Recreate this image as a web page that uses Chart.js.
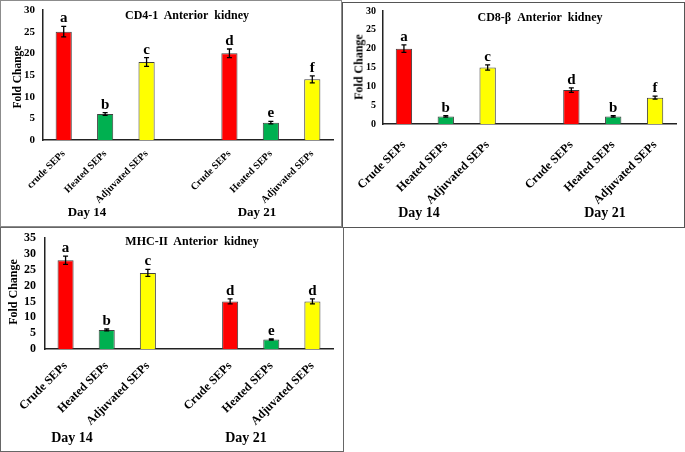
<!DOCTYPE html>
<html>
<head>
<meta charset="utf-8">
<script src="https://cdn.jsdelivr.net/npm/chart.js@4.4.0/dist/chart.umd.min.js"></script>
<style>
  body { margin:0; background:#fff; font-family:"Liberation Serif", serif; }
  #page { position:relative; width:685px; height:452px; overflow:hidden; }
  .box { position:absolute; border:1px solid #8c8c8c; box-sizing:border-box; }
  canvas { position:absolute; }
  .txt { position:absolute; font-weight:bold; white-space:nowrap; transform:translate(-50%,-50%); color:#000; }
  .ylab { position:absolute; font-weight:bold; white-space:nowrap; transform:translate(-50%,-50%) rotate(-90deg); color:#000; }
</style>
</head>
<body>
<div id="page">
  <div class="box" style="left:0;top:0;width:342px;height:227px"></div>
  <div class="box" style="left:342px;top:2px;width:343px;height:226px;border-color:#555"></div>
  <div class="box" style="left:0;top:227px;width:344px;height:225px;border-color:#666"></div>

  <canvas id="cd4" width="340" height="224" style="left:1px;top:1px"></canvas>
  <canvas id="cd8" width="339" height="223" style="left:344px;top:3px"></canvas>
  <canvas id="mhc" width="341" height="221" style="left:1px;top:229px"></canvas>

  <div class="txt" style="left:187px;top:15px;font-size:12px">CD4-1&nbsp; Anterior&nbsp; kidney</div>
  <div class="txt" style="left:540px;top:17px;font-size:12px">CD8-β&nbsp; Anterior&nbsp; kidney</div>
  <div class="txt" style="left:192px;top:241px;font-size:12px">MHC-II&nbsp; Anterior&nbsp; kidney</div>

  <div class="ylab" style="left:17px;top:77px;font-size:11.5px">Fold Change</div>
  <div class="ylab" style="left:359px;top:67px;font-size:12px">Fold Change</div>
  <div class="ylab" style="left:13px;top:292px;font-size:12px">Fold Change</div>

  <div class="txt" style="left:87px;top:212px;font-size:13px">Day 14</div>
  <div class="txt" style="left:257px;top:212px;font-size:13px">Day 21</div>
  <div class="txt" style="left:419px;top:213px;font-size:14px">Day 14</div>
  <div class="txt" style="left:605px;top:213px;font-size:14px">Day 21</div>
  <div class="txt" style="left:72px;top:438px;font-size:14px">Day 14</div>
  <div class="txt" style="left:246px;top:438px;font-size:14px">Day 21</div>
</div>
<script>
/* ---------- Data ---------- */
const cd4Labels = ["crude SEPs", "Heated SEPs", "Adjuvated SEPs", "", "Crude SEPs", "Heated SEPs", "Adjuvated SEPs"];
const otherLabels = ["Crude SEPs", "Heated SEPs", "Adjuvated SEPs", "", "Crude SEPs", "Heated SEPs", "Adjuvated SEPs"];

const cd4Values = [25, 6, 18, null, 20, 4, 14];
const cd4Errors = [1.2, 0.3, 1.0, null, 1.0, 0.3, 0.8];
const cd4Letters = ["a", "b", "c", "", "d", "e", "f"];

const cd8Values = [20, 2, 15, null, 9, 2, 7];
const cd8Errors = [1.0, 0.2, 0.7, null, 0.6, 0.2, 0.4];
const cd8Letters = ["a", "b", "c", "", "d", "b", "f"];

const mhcValues = [28, 6, 24, null, 15, 3, 15];
const mhcErrors = [1.3, 0.3, 1.1, null, 0.8, 0.2, 0.8];
const mhcLetters = ["a", "b", "c", "", "d", "e", "d"];

const barColors = ["#FF0000", "#00B050", "#FFFF00", "#fff", "#FF0000", "#00B050", "#FFFF00"];

/* ---------- Helpers ---------- */
const FONT = "Liberation Serif";

// error bars + significance letters, placed through the y scale
const errorPlugin = {
  id: "errs",
  afterDatasetsDraw(chart) {
    const { ctx } = chart;
    const ys = chart.scales.y;
    const meta = chart.getDatasetMeta(0);
    const o = chart.options.plugins.errs;
    ctx.save();
    ctx.strokeStyle = "#000";
    ctx.lineWidth = 1.3;
    meta.data.forEach((bar, i) => {
      const v = o.values[i];
      if (v == null) return;
      const e = o.errors[i];
      const x = bar.x;
      const top = ys.getPixelForValue(v + e);
      const bot = ys.getPixelForValue(v - e);
      ctx.beginPath();
      ctx.moveTo(x, top); ctx.lineTo(x, bot);
      ctx.moveTo(x - 2.5, top); ctx.lineTo(x + 2.5, top);
      ctx.moveTo(x - 2.5, bot); ctx.lineTo(x + 2.5, bot);
      ctx.stroke();
      ctx.fillStyle = "#000";
      ctx.font = "bold " + o.letterSize + "px '" + FONT + "'";
      ctx.textAlign = "center";
      ctx.textBaseline = "alphabetic";
      ctx.fillText(o.letters[i], x, top - 4);
    });
    ctx.restore();
  }
};

function makeChart(id, labels, values, errors, letters, cfg) {
  return new Chart(document.getElementById(id), {
    type: "bar",
    data: {
      labels,
      datasets: [{
        data: values,
        backgroundColor: barColors,
        borderColor: "#404040",
        borderWidth: 1,
        barPercentage: 0.39,
        categoryPercentage: 1
      }]
    },
    options: {
      responsive: false,
      animation: false,
      layout: { padding: { top: cfg.top, right: cfg.right, left: 0, bottom: 0 } },
      plugins: {
        legend: { display: false },
        tooltip: { enabled: false },
        errs: { values, errors, letters, letterSize: cfg.letterSize }
      },
      scales: {
        x: {
          grid: { display: false, drawTicks: false },
          border: { color: "#222", width: 1.5 },
          ticks: {
            color: "#000", minRotation: 45, maxRotation: 45, autoSkip: false, padding: cfg.xPad,
            font: { family: FONT, weight: "bold", size: cfg.xSize }
          },
          afterFit(s) { s.height = cfg.xHeight; s.paddingLeft = 0; s.paddingRight = 0; }
        },
        y: {
          min: 0, max: cfg.max,
          grid: { display: false, drawTicks: false },
          border: { color: "#222", width: 1.5 },
          ticks: {
            stepSize: 5, autoSkip: false, color: "#000", padding: cfg.yPad,
            font: { family: FONT, weight: "bold", size: cfg.ySize }
          },
          afterFit(s) { s.width = cfg.yWidth; s.paddingTop = 0; s.paddingBottom = 0; }
        }
      }
    },
    plugins: [errorPlugin]
  });
}

/* ---------- Boot ---------- */
makeChart("cd4", cd4Labels, cd4Values, cd4Errors, cd4Letters,
  { max: 30, top: 9, right: 8, yWidth: 42, xHeight: 85, xSize: 10, ySize: 11, xPad: 8, yPad: 8, letterSize: 15 });
makeChart("cd8", otherLabels, cd8Values, cd8Errors, cd8Letters,
  { max: 30, top: 8, right: 7, yWidth: 39, xHeight: 102, xSize: 12, ySize: 10, xPad: 14, yPad: 7, letterSize: 15 });
makeChart("mhc", otherLabels, mhcValues, mhcErrors, mhcLetters,
  { max: 35, top: 9, right: 9, yWidth: 44, xHeight: 101, xSize: 12, ySize: 12, xPad: 10, yPad: 9, letterSize: 15 });
</script>
</body>
</html>
